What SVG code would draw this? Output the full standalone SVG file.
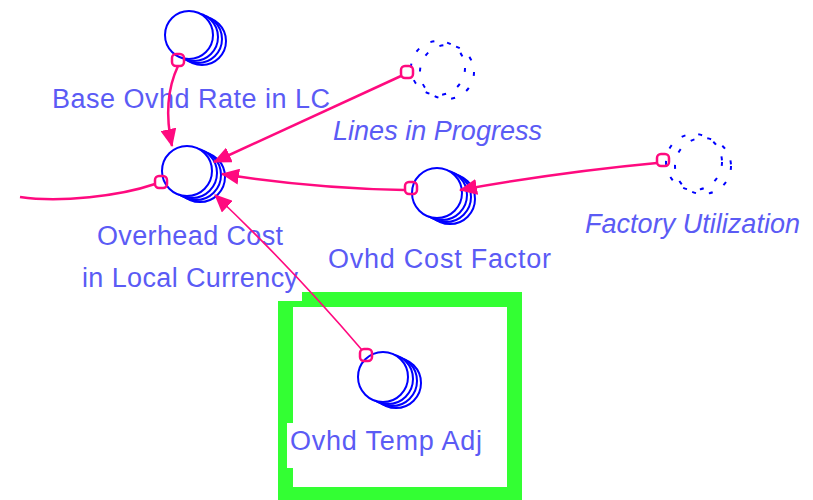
<svg xmlns="http://www.w3.org/2000/svg" xmlns:xlink="http://www.w3.org/1999/xlink" width="813" height="500" viewBox="0 0 813 500">
<style>
.lbl{font-family:"Liberation Sans",Arial,sans-serif;font-size:27px;fill:#5b5bf5}
.it{font-style:italic}
.c{fill:#fff;stroke:#0000ff;stroke-width:2}
.g{fill:none;stroke:#0000ff;stroke-width:2;stroke-dasharray:4 13}
.ln{fill:none;stroke:#ff0a7f;stroke-width:2.5}
.thin{stroke-width:1.6}
.tail{fill:none;stroke:#ff0a7f;stroke-width:2.5}
.bg{fill:#fff}
</style>
<defs>
<marker id="ah" viewBox="0 0 18 16" refX="17" refY="8" markerWidth="18" markerHeight="16" markerUnits="userSpaceOnUse" orient="auto">
<path d="M0,0 L18,8 L0,16 Z" fill="#ff0a7f"/>
</marker>
</defs>
<rect width="813" height="500" fill="#fff"/>
<g id="highlight">
<rect x="285.5" y="299.5" width="229" height="195" fill="none" stroke="#33ff33" stroke-width="15"/>
</g>
<g id="base-ovhd-rate">
<circle class="c" cx="202" cy="41" r="24"/>
<circle class="c" cx="198" cy="39" r="24"/>
<circle class="c" cx="194" cy="37" r="24"/>
<circle class="c" cx="189" cy="35" r="24"/>
<text class="lbl" x="52" y="108" textLength="278">Base Ovhd Rate in LC</text>
</g>
<g id="overhead-cost">
<rect class="bg" x="78" y="222" width="224" height="79"/>
<circle class="c" cx="200" cy="177" r="25"/>
<circle class="c" cx="196" cy="175" r="25"/>
<circle class="c" cx="192" cy="173" r="25"/>
<circle class="c" cx="187" cy="171" r="25"/>
<text class="lbl" x="97" y="245" textLength="186">Overhead Cost</text>
<text class="lbl" x="82" y="287" textLength="216">in Local Currency</text>
</g>
<g id="lines-in-progress">
<circle class="g" cx="447" cy="72" r="27"/>
<circle class="g" cx="438" cy="68" r="27"/>
<text class="lbl it" x="333" y="140" textLength="209">Lines in Progress</text>
</g>
<g id="ovhd-cost-factor">
<circle class="c" cx="450" cy="199" r="25"/>
<circle class="c" cx="446" cy="197" r="25"/>
<circle class="c" cx="442" cy="195" r="25"/>
<circle class="c" cx="437" cy="193" r="25"/>
<text class="lbl" x="328" y="268" textLength="223">Ovhd Cost Factor</text>
</g>
<g id="factory-utilization">
<circle class="g" cx="703" cy="166" r="28"/>
<circle class="g" cx="694" cy="162" r="28"/>
<text class="lbl it" x="585" y="233" textLength="215">Factory Utilization</text>
</g>
<g id="ovhd-temp-adj">
<rect class="bg" x="287" y="423" width="200" height="45"/>
<circle class="c" cx="396" cy="383" r="25"/>
<circle class="c" cx="392" cy="381" r="25"/>
<circle class="c" cx="388" cy="379" r="25"/>
<circle class="c" cx="383" cy="377" r="25"/>
<text class="lbl" x="290" y="450" textLength="192">Ovhd Temp Adj</text>
</g>
<g id="connectors">
<path class="ln" d="M178,66 Q162,100 172,146" marker-end="url(#ah)"/>
<path class="ln" d="M401,76 L214,162" marker-end="url(#ah)"/>
<path class="ln" d="M404,190 Q310,188 222,174" marker-end="url(#ah)"/>
<path class="ln" d="M657,163 Q560,172 460,190" marker-end="url(#ah)"/>
<path class="ln thin" d="M362,350 Q292,268 215,195" marker-end="url(#ah)"/>
<path class="ln" d="M20,197 C60,203 120,196 155,184"/>
<rect class="tail" x="172" y="54" width="12" height="12" rx="4"/>
<rect class="tail" x="155" y="176" width="12" height="12" rx="4"/>
<rect class="tail" x="401" y="66" width="12" height="12" rx="4"/>
<rect class="tail" x="405" y="182" width="12" height="12" rx="4"/>
<rect class="tail" x="657" y="154" width="12" height="12" rx="4"/>
<rect class="tail" x="360" y="349" width="12" height="12" rx="4"/>
</g>
</svg>
